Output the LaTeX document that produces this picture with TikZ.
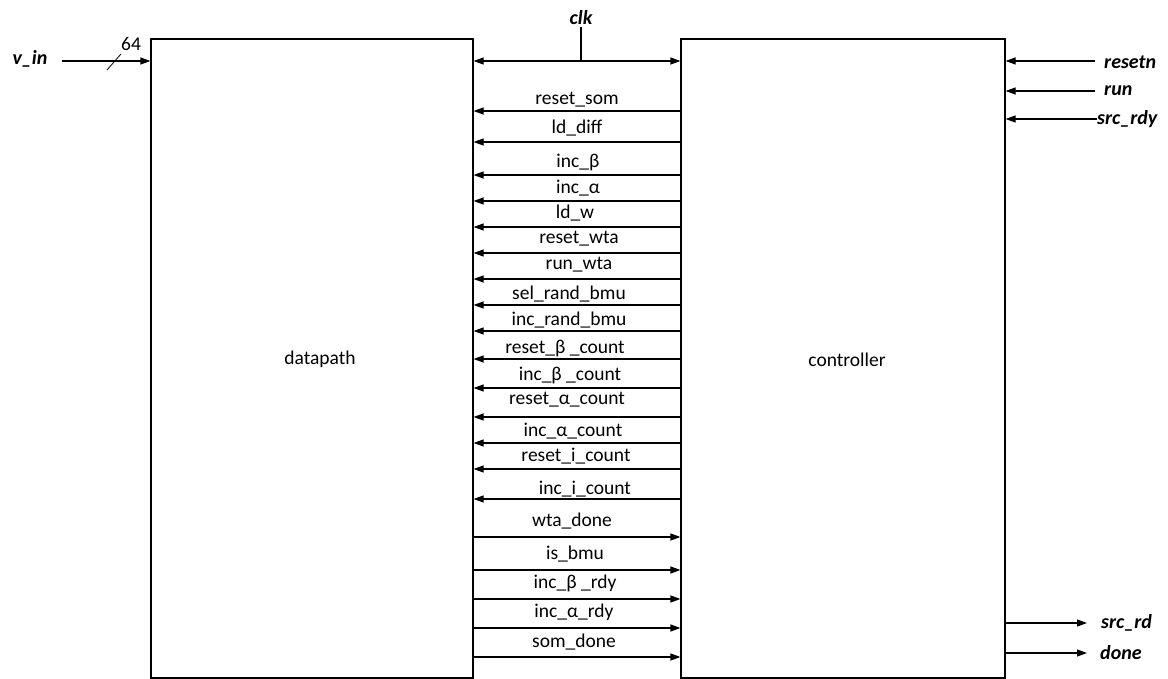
\documentclass[tikz,border=0pt]{standalone}
\usepackage{fontspec}
\setmainfont{Carlito}
\usetikzlibrary{arrows.meta}
\begin{document}
\begin{tikzpicture}[x=1pt,y=-1pt,
  lbl/.style={font=\fontsize{19.5}{21}\selectfont, inner sep=0pt, yshift=-1.5pt},
  ext/.style={font=\fontsize{20}{22}\selectfont\bfseries\itshape, inner sep=0pt, yshift=-1pt},
  blk/.style={draw, line width=1.2pt, inner sep=0pt},
  sig/.style={line width=1.2pt, -{Triangle[length=10pt,width=7pt]}},
  both/.style={line width=1.2pt, {Triangle[length=10pt,width=7pt]}-{Triangle[length=10pt,width=7pt]}},
  wire/.style={line width=1.2pt}]
\useasboundingbox (0,0) rectangle (1168,679);
% blocks
\node[blk, minimum width=322pt, minimum height=639pt] (dp) at (312,358.5) {};
\node[lbl] at (320,358) {datapath};
\node[blk, minimum width=324pt, minimum height=639pt] (ct) at (843,358.5) {};
\node[lbl] at (847,358) {controller};
% clk
\node[ext] (clk) at (581,17) {clk};
\coordinate (clkj) at (581,61);
\draw[wire] (clk.south) ++(0,2) -- (clkj);
\draw[both] (dp.east |- clkj) -- (ct.west |- clkj);
% v_in
\node[ext] (vin) at (30,58) {v\_in};
\coordinate (vins) at (62,61);
\draw[sig] (vins) -- (dp.west |- vins);
\draw[line width=0.8pt] (107,70) -- (121,54);
\node[lbl] (w64) at (131,42) {64};
% controller -> datapath
\foreach \t/\ly/\y/\lx in {
  reset\_som/98/111/577,
  ld\_diff/127/142/577,
  inc\_β/161/175/578,
  inc\_α/187/201/578,
  ld\_w/212/227/575,
  reset\_wta/237/253/579,
  run\_wta/263/279/579,
  sel\_rand\_bmu/293/305/569,
  inc\_rand\_bmu/319/331/569,
  reset\_β \_count/347/359/565,
  inc\_β \_count/374/388/570,
  reset\_α\_count/398/417/567,
  inc\_α\_count/430/443/573,
  reset\_i\_count/455/469/576,
  inc\_i\_count/488/499/585}{
  \node[lbl] at (\lx,\ly) {\t};
  \draw[sig] (ct.west |- 0,\y) -- (dp.east |- 0,\y);
}
% datapath -> controller
\foreach \t/\ly/\y/\lx in {
  wta\_done/520/537/572,
  is\_bmu/553/570/575,
  inc\_β \_rdy/582/599/575,
  inc\_α\_rdy/611/628/574,
  som\_done/641/657/574}{
  \node[lbl] at (\lx,\ly) {\t};
  \draw[sig] (dp.east |- 0,\y) -- (ct.west |- 0,\y);
}
% right inputs
\node[ext, anchor=west] (rstn) at (1104,61) {resetn};
\node[ext, anchor=west] (run) at (1104,90) {run};
\node[ext, anchor=west] (srdy) at (1097,118) {src\_rdy};
\draw[sig] (1095,61) -- (ct.east |- 0,61);
\draw[sig] (1095,91) -- (ct.east |- 0,91);
\draw[sig] (srdy.west |- 0,119) -- (ct.east |- 0,119);
% right outputs
\node[ext, anchor=west] (srd) at (1101,622) {src\_rd};
\node[ext, anchor=west] (done) at (1100,652) {done};
\draw[sig] (ct.east |- 0,623) -- (1087,623);
\draw[sig] (ct.east |- 0,653) -- (1087,653);
\end{tikzpicture}
\end{document}
